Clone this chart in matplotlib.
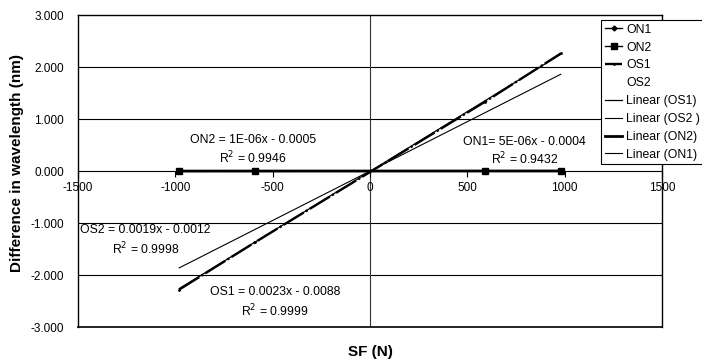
import numpy as np
import matplotlib.pyplot as plt

plt.rcParams['font.family'] = ['Liberation Sans', 'DejaVu Sans']
plt.rcParams['axes.unicode_minus'] = False

# measured points
sf = [-980, -590, 590, 980]
on1 = [-0.005, -0.003, 0.002, 0.005]
on2 = [-0.0015, -0.001, 0.0003, 0.0005]
os1 = [-2.28, -1.37, 1.33, 2.26]
os2 = [-1.86, -1.12, 1.12, 1.86]

# trendline coefficients as shown on the chart
trend_names = ['Linear (OS1)', 'Linear (OS2 )', 'Linear (ON2)', 'Linear (ON1)']
trend_slope = [0.0023, 0.0019, 1e-06, 5e-06]
trend_icpt = [-0.0088, -0.0012, -0.0005, -0.0004]
trend_lw = [0.9, 0.8, 2.0, 0.8]

xticks = [-1500, -1000, -500, 0, 500, 1000, 1500]
yticks = [-3, -2, -1, 0, 1, 2, 3]

fig = plt.figure(figsize=(7.02, 3.62), dpi=100)
ax = fig.add_axes([78/702, 35/362, 584/702, 312/362])

handles = []
h, = ax.plot(sf, on1, color='black', lw=1, marker='D', ms=2.5, label='ON1')
handles.append(h)
h, = ax.plot(sf, on2, color='black', lw=1, marker='s', ms=4.5, label='ON2')
handles.append(h)
h, = ax.plot(sf, os1, color='black', lw=1.7, dashes=(10, 1, 1, 1), marker='.', ms=2, label='OS1')
handles.append(h)
h, = ax.plot(sf, os2, color='black', ls='none', marker='none', label='OS2')
handles.append(h)

xr = np.array([sf[0], sf[-1]])
for name, m, c, lw in zip(trend_names, trend_slope, trend_icpt, trend_lw):
    h, = ax.plot(xr, m * xr + c, color='black', lw=lw, label=name)
    handles.append(h)

ax.set_xlim(-1500, 1500)
ax.set_ylim(-3, 3)
ax.set_xticks(xticks)
ax.set_yticks(yticks)
ax.set_yticklabels(['%.3f' % v for v in yticks])
for y in yticks[1:-1]:
    if y != 0:
        ax.axhline(y, color='black', lw=0.8, zorder=0)
ax.axvline(0, color='#333333', lw=0.8, zorder=0)
ax.axhline(-3, color='black', lw=1.2, clip_on=False)

ax.spines['bottom'].set_position(('data', 0))
ax.spines['bottom'].set_linewidth(0.8)
for s in ['left', 'right', 'top']:
    ax.spines[s].set_linewidth(1.0)
ax.tick_params(axis='x', direction='out', length=4, width=0.8, labelsize=8.5, pad=4)
ax.tick_params(axis='y', length=0, labelsize=8.5, pad=10)

ax.set_xlabel('SF (N)', fontsize=11, fontweight='bold')
ax.xaxis.set_label_coords(0.5, -0.058)
ax.set_ylabel('Difference in wavelength (nm)', fontsize=11, fontweight='bold')
ax.yaxis.set_label_coords(-0.093, 0.526)

fs = 8.8
ax.text(-600, 0.60, 'ON2 = 1E-06x - 0.0005', ha='center', va='center', fontsize=fs)
ax.text(-600, 0.25, 'R$^2$ = 0.9946', ha='center', va='center', fontsize=fs)
ax.text(795, 0.56, 'ON1= 5E-06x - 0.0004', ha='center', va='center', fontsize=fs)
ax.text(795, 0.23, 'R$^2$ = 0.9432', ha='center', va='center', fontsize=fs)
ax.text(-1490, -1.13, 'OS2 = 0.0019x - 0.0012', ha='left', va='center', fontsize=fs)
ax.text(-1150, -1.50, 'R$^2$ = 0.9998', ha='center', va='center', fontsize=fs)
ax.text(-487, -2.33, 'OS1 = 0.0023x - 0.0088', ha='center', va='center', fontsize=fs)
ax.text(-487, -2.69, 'R$^2$ = 0.9999', ha='center', va='center', fontsize=fs)

leg = fig.legend(handles=handles, loc='upper left', bbox_to_anchor=(601/702, 1 - 20/362),
                 fontsize=8.8, frameon=True, fancybox=False, edgecolor='black',
                 framealpha=1, handlelength=1.45, handletextpad=0.3,
                 labelspacing=0.48, borderpad=0.3, borderaxespad=0)
leg.get_frame().set_linewidth(0.8)

fig.savefig('out.png', dpi=100)
